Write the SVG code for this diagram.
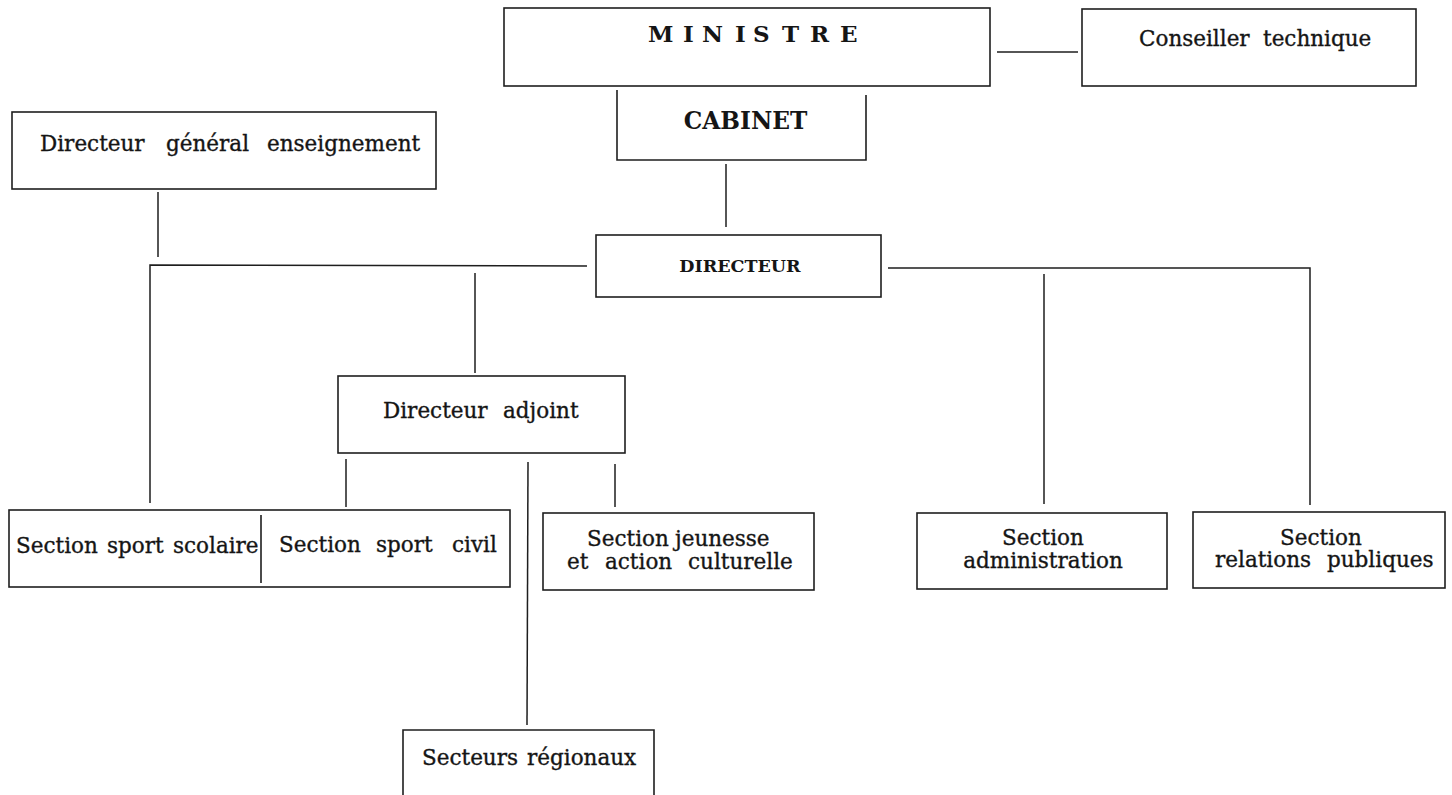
<svg xmlns="http://www.w3.org/2000/svg" width="1452" height="795" viewBox="0 0 1452 795">
<style>
.box{fill:none;stroke:#1e1e1e;stroke-width:1.6}
.ln{fill:none;stroke:#1e1e1e;stroke-width:1.5}
.t{font-family:"DejaVu Serif","Liberation Serif",serif;font-size:21.5px;fill:#151515;stroke:#151515;stroke-width:0.35}
.b{font-family:"DejaVu Serif","Liberation Serif",serif;font-weight:bold;fill:#151515}
</style>
<rect width="1452" height="795" fill="#ffffff"/>
<g id="connectors">
<line class="ln" x1="997" y1="52" x2="1078" y2="52"/>
<line class="ln" x1="726" y1="164" x2="726" y2="227"/>
<line class="ln" x1="158" y1="192" x2="158" y2="257"/>
<polyline class="ln" points="150,503 150,265 587,266"/>
<line class="ln" x1="475" y1="273" x2="475" y2="373"/>
<polyline class="ln" points="888,268 1310,268 1310,505"/>
<line class="ln" x1="1044" y1="274" x2="1044" y2="504"/>
<line class="ln" x1="346" y1="459" x2="346" y2="507"/>
<line class="ln" x1="528" y1="462" x2="527" y2="725"/>
<line class="ln" x1="615" y1="464" x2="615" y2="507"/>
</g>
<g id="ministre">
<rect class="box" x="504" y="8" width="486" height="78"/>
<text class="b" font-size="23" x="648 683 702 735 753 782 810 840" y="42">MINISTRE</text>
</g>
<g id="conseiller">
<rect class="box" x="1082" y="9" width="334" height="77"/>
<text class="t" y="46"><tspan x="1139">Conseiller</tspan><tspan x="1263">technique</tspan></text>
</g>
<g id="cabinet">
<polyline class="box" points="617,90 617,160 866,160 866,95"/>
<text class="b" font-size="23.3" x="745.5" y="129" text-anchor="middle">CABINET</text>
</g>
<g id="directeur">
<rect class="box" x="596" y="235" width="285" height="62"/>
<text class="b" font-size="17.5" x="740" y="272" text-anchor="middle">DIRECTEUR</text>
</g>
<g id="dge">
<rect class="box" x="12" y="112" width="424" height="77"/>
<text class="t" y="151"><tspan x="40">Directeur</tspan><tspan x="166">général</tspan><tspan x="267">enseignement</tspan></text>
</g>
<g id="adjoint">
<rect class="box" x="338" y="376" width="287" height="77"/>
<text class="t" y="418"><tspan x="383">Directeur</tspan><tspan x="503">adjoint</tspan></text>
</g>
<g id="sport">
<rect class="box" x="9" y="510" width="501" height="77"/>
<line class="box" x1="261" y1="515" x2="261" y2="583"/>
<text class="t" y="553"><tspan x="16">Section</tspan><tspan x="107">sport</tspan><tspan x="173">scolaire</tspan></text>
<text class="t" y="552"><tspan x="279">Section</tspan><tspan x="376">sport</tspan><tspan x="452">civil</tspan></text>
</g>
<g id="jeunesse">
<rect class="box" x="543" y="513" width="271" height="77"/>
<text class="t" y="546"><tspan x="587">Section</tspan><tspan x="675">jeunesse</tspan></text>
<text class="t" y="569"><tspan x="567">et</tspan><tspan x="605">action</tspan><tspan x="688">culturelle</tspan></text>
</g>
<g id="administration">
<rect class="box" x="917" y="513" width="250" height="76"/>
<text class="t" x="1043" y="545" text-anchor="middle">Section</text>
<text class="t" x="1043" y="568" text-anchor="middle">administration</text>
</g>
<g id="relations">
<rect class="box" x="1193" y="512" width="252" height="76"/>
<text class="t" x="1321" y="545" text-anchor="middle">Section</text>
<text class="t" y="567"><tspan x="1215">relations</tspan><tspan x="1327">publiques</tspan></text>
</g>
<g id="secteurs">
<polyline class="box" points="403,797 403,730 654,730 654,797"/>
<text class="t" y="765"><tspan x="422">Secteurs</tspan><tspan x="527">régionaux</tspan></text>
</g>
</svg>
